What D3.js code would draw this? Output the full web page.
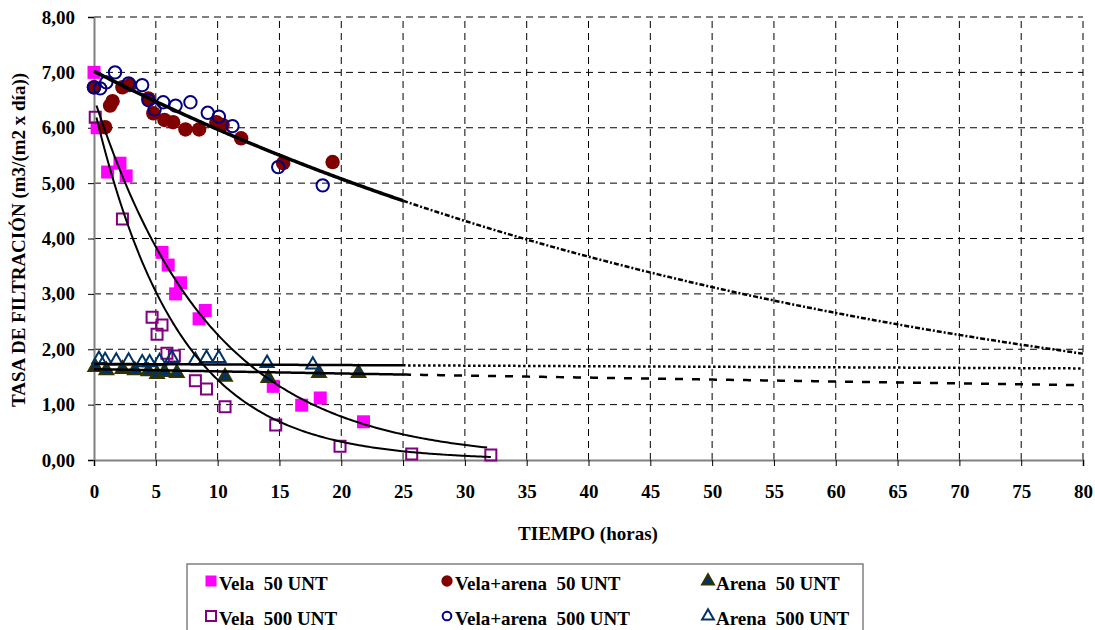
<!DOCTYPE html>
<html><head><meta charset="utf-8">
<script src="https://cdn.jsdelivr.net/npm/d3@7"></script>
<style>
html,body{margin:0;padding:0;background:#fff;}
</style></head>
<body>
<svg id="c" width="1095" height="630"></svg>
<script>
// ---- data ----
const xTicks = [0,5,10,15,20,25,30,35,40,45,50,55,60,65,70,75,80];
const yTicks = [0,1,2,3,4,5,6,7,8];

const vela50_t = [0,0.25,1.1,2.1,2.6,5.5,6.0,7.0,6.6,9.0,8.5,14.5,16.8,18.3,21.8];
const vela50_v = [7.0,6.0,5.2,5.36,5.13,3.75,3.52,3.2,3.0,2.7,2.55,1.33,0.99,1.12,0.69];

const vela500_t = [0.1,2.3,4.7,5.5,5.1,5.9,6.5,8.2,9.1,10.6,14.7,19.9,25.7,32.1];
const vela500_v = [6.19,4.35,2.58,2.44,2.27,1.93,1.88,1.43,1.28,0.96,0.63,0.25,0.11,0.09];

const va50_t = [0,0.9,1.3,1.5,2.3,2.9,4.4,4.8,5.7,6.4,7.4,8.5,9.9,10.4,11.9,15.3,19.3];
const va50_v = [6.73,6.01,6.4,6.48,6.73,6.77,6.53,6.26,6.14,6.1,5.97,5.97,6.1,6.05,5.81,5.36,5.38];

const va500_t = [0,0.5,1.0,1.7,2.8,3.9,4.4,4.9,5.6,6.6,7.8,9.2,10.1,11.2,14.9,18.5];
const va500_v = [6.73,6.71,6.82,7.0,6.8,6.77,6.5,6.33,6.46,6.4,6.46,6.27,6.2,6.03,5.29,4.96];

const arena50_t = [0.1,1.0,2.3,3.3,4.4,5.1,5.7,6.7,10.6,14.1,18.2,21.4];
const arena50_v = [1.68,1.62,1.64,1.62,1.6,1.55,1.59,1.57,1.5,1.48,1.57,1.57];

const arena500_t = [0.4,0.9,1.8,2.8,3.9,4.5,5.3,6.3,8.2,9.1,10.1,14.0,17.7];
const arena500_v = [1.82,1.8,1.79,1.79,1.76,1.76,1.78,1.84,1.8,1.84,1.84,1.75,1.72];

// exponential trend lines y = a*exp(-b*t)
const trendNames = ["va","vela50","vela500","arena500","arena50"];
const trendA     = [7.02, 6.54, 6.37, 1.735, 1.64];
const trendB     = [0.0162, 0.106, 0.148, 0.0006, 0.00243];
const trendSolid = [[0,25],[0.2,31.8],[0.2,32.1],[0,25],[0,25]];
const trendFwd   = [[25,80],null,null,[25,80],[25,80]];

const legendLabels = ["Vela  50 UNT","Vela+arena  50 UNT","Arena  50 UNT","Vela  500 UNT","Vela+arena  500 UNT","Arena  500 UNT"];

// ---- chart ----
const FONT = "'Liberation Serif','Times New Roman',serif";
const svg = d3.select("#c");
const x = d3.scaleLinear().domain([0,80]).range([94,1083]);
const y = d3.scaleLinear().domain([0,8]).range([460,17]);

// gridlines
const grid = svg.append("g");
grid.selectAll("line.h").data(yTicks.filter(d=>d>0)).join("line")
  .attr("x1",x(0)).attr("x2",x(80)).attr("y1",d=>y(d)).attr("y2",d=>y(d))
  .attr("stroke","#000").attr("stroke-width",1).attr("stroke-dasharray","7,5");
grid.selectAll("line.v").data(xTicks.filter(d=>d>0)).join("line")
  .attr("y1",y(0)).attr("y2",y(8)).attr("x1",d=>x(d)).attr("x2",d=>x(d))
  .attr("stroke","#000").attr("stroke-width",1).attr("stroke-dasharray","7,5");

// axes
const fmt = d => d.toFixed(2).replace(".",",");
const yAxis = svg.append("g").attr("transform",`translate(${x(0)},0)`)
  .call(d3.axisLeft(y).tickValues(yTicks).tickFormat(fmt).tickSize(6).tickPadding(13));
const xAxis = svg.append("g").attr("transform",`translate(0,${y(0)})`)
  .call(d3.axisBottom(x).tickValues(xTicks).tickFormat(d3.format("d")).tickSize(6).tickPadding(19));
[yAxis,xAxis].forEach(a=>{
  a.attr("font-family",FONT);
  a.select(".domain").attr("stroke","#808080").attr("stroke-width",2);
  a.selectAll(".tick line").attr("stroke","#000").attr("stroke-width",1);
  a.selectAll(".tick text").attr("font-size",19).attr("font-weight","bold").attr("fill","#000")
   .attr("font-family",FONT);
});

// titles
svg.append("text").attr("x",588).attr("y",540).attr("text-anchor","middle")
  .attr("font-family",FONT).attr("font-weight","bold")
  .attr("font-size",19).text("TIEMPO (horas)");
const yt = svg.append("text").attr("transform","translate(25,240) rotate(-90)")
  .attr("text-anchor","middle").attr("font-size",19)
  .attr("font-family",FONT).attr("font-weight","bold");
yt.append("tspan").text("TASA DE FILTRACIÓN ");
yt.append("tspan").text("(m3/(m2 x día))");

// markers
const series = [
  {t:vela50_t, v:vela50_v, shape:d3.symbolSquare, size:169, fill:"#ff00ff", stroke:"none", sw:0},
  {t:va50_t, v:va50_v, shape:d3.symbolCircle, size:165, fill:"#800000", stroke:"none", sw:0},
  {t:arena50_t, v:arena50_v, shape:d3.symbolTriangle, size:80, fill:"#003366", stroke:"#333300", sw:2},
  {t:vela500_t, v:vela500_v, shape:d3.symbolSquare, size:121, fill:"none", stroke:"#800080", sw:2},
  {t:va500_t, v:va500_v, shape:d3.symbolCircle, size:120, fill:"none", stroke:"#000080", sw:2},
  {t:arena500_t, v:arena500_v, shape:d3.symbolTriangle, size:75, fill:"none", stroke:"#003366", sw:2}
];
series.forEach(s=>{
  svg.append("g").selectAll("path").data(s.t.map((t,i)=>[t,s.v[i]])).join("path")
    .attr("d",d3.symbol().type(s.shape).size(s.size))
    .attr("transform",d=>`translate(${x(d[0])},${y(d[1])})`)
    .attr("fill",s.fill).attr("stroke",s.stroke).attr("stroke-width",s.sw);
});

// trend lines
const line = d3.line().x(d=>x(d[0])).y(d=>y(d[1]));
function curve(a,b,r){ return d3.range(r[0], r[1]+0.0001, (r[1]-r[0])/200).map(t=>[t,a*Math.exp(-b*t)]); }
const solidW = [3.5,2,2,2.5,2.5];
const fwdDash = ["5,2,2,2",null,null,"2.5,2.5","8,9"];
const fwdW = [2.5,0,0,2.5,2.5];
trendNames.forEach((n,i)=>{
  svg.append("path").attr("d",line(curve(trendA[i],trendB[i],trendSolid[i])))
    .attr("fill","none").attr("stroke","#000").attr("stroke-width",solidW[i]);
  if(trendFwd[i]){
    svg.append("path").attr("d",line(curve(trendA[i],trendB[i],trendFwd[i])))
      .attr("fill","none").attr("stroke","#000").attr("stroke-width",fwdW[i])
      .attr("stroke-dasharray",fwdDash[i]);
  }
});

// legend
const lg = svg.append("g");
lg.append("rect").attr("x",187).attr("y",564).attr("width",676).attr("height",80)
  .attr("fill","#fff").attr("stroke","#808080").attr("stroke-width",1.5);
const colX = [211,447,708];
const rowY = [583,618];
series.forEach((s,i)=>{
  const cx = colX[i%3], cy = rowY[Math.floor(i/3)];
  const sz = s.shape===d3.symbolTriangle ? 60 : (s.shape===d3.symbolCircle ? (s.fill==="none"?60:100) : (s.fill==="none"?100:121));
  lg.append("path").attr("d",d3.symbol().type(s.shape).size(sz)())
    .attr("transform",`translate(${cx},${cy-2})`)
    .attr("fill",s.fill).attr("stroke",s.stroke).attr("stroke-width",s.sw);
  lg.append("text").attr("x",cx+8).attr("y",cy+7).attr("font-size",19)
    .attr("font-family",FONT).attr("font-weight","bold")
    .attr("xml:space","preserve").style("white-space","pre").text(legendLabels[i]);
});
</script>
</body></html>
